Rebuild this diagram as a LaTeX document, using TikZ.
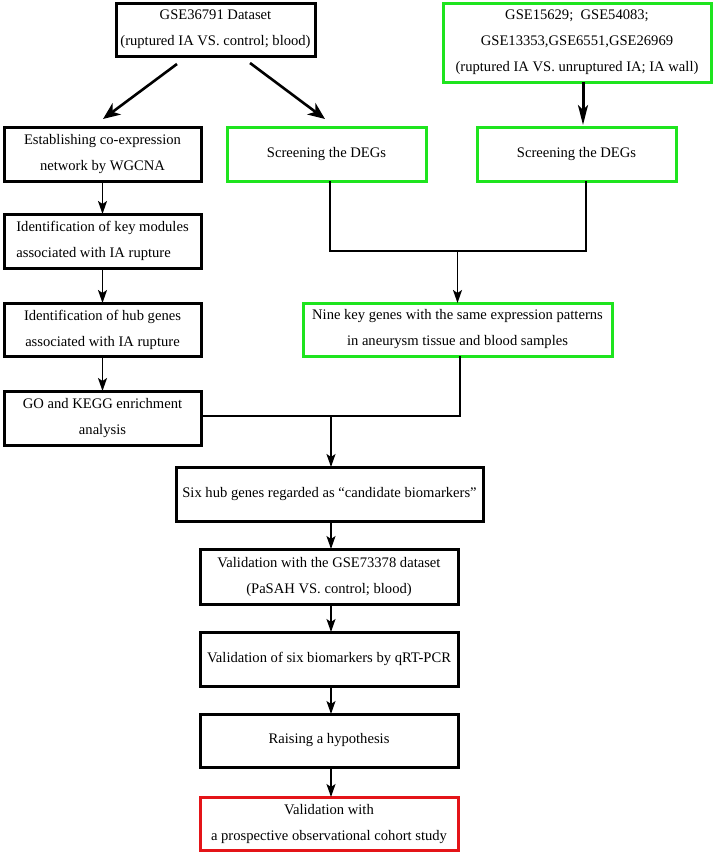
\documentclass[tikz,border=0pt]{standalone}
\usepackage{fontspec}
\setmainfont{Liberation Serif}
\usetikzlibrary{arrows.meta,calc}
\definecolor{boxgreen}{RGB}{30,228,30}
\definecolor{boxred}{RGB}{228,20,24}
\begin{document}
\begin{tikzpicture}[x=1pt,y=-1pt,
  box/.style={draw=black,line width=3pt,inner sep=0pt,outer sep=0pt,align=center,
    font=\fontsize{14.6}{26}\selectfont,text=black},
  gbox/.style={box,draw=boxgreen},
  rbox/.style={box,draw=boxred},
  conn/.style={line width=1.8pt,-{Stealth[length=13pt,width=9pt,inset=3pt]}},
  plain/.style={line width=1.8pt},
  bigconn/.style={line width=2.6pt,-{Stealth[length=17pt,width=14pt,inset=5pt]}},
  vconn/.style={line width=3pt,-{Stealth[length=20pt,width=10pt,inset=5pt]}}
]
\useasboundingbox (0,0) rectangle (714,852);
\fill[white] (0,0) rectangle (714,852);

\node[box,minimum width=199pt,minimum height=53pt] (b1) at (215.5,29.5)
  {GSE36791 Dataset\\(ruptured IA VS. control; blood)};
\node[gbox,minimum width=268pt,minimum height=79pt] (b2) at (577,42.5)
  {GSE15629;\ \ GSE54083;\\GSE13353,GSE6551,GSE26969\\(ruptured IA VS. unruptured IA; IA wall)};
\node[box,minimum width=197pt,minimum height=54pt] (wg) at (102.5,154)
  {Establishing co-expression\\network by WGCNA};
\node[gbox,minimum width=199pt,minimum height=54pt] (sl) at (326.5,154)
  {Screening the DEGs};
\node[gbox,minimum width=199pt,minimum height=54pt] (sr) at (576.5,154)
  {Screening the DEGs};
\node[box,minimum width=197pt,minimum height=54pt,align=left] (km) at (102.5,241)
  {Identification of key modules\\associated with IA rupture};
\node[box,minimum width=197pt,minimum height=53pt] (hg) at (102.5,329.5)
  {Identification of hub genes\\associated with IA rupture};
\node[box,minimum width=197pt,minimum height=54pt] (go) at (102.5,418)
  {GO and KEGG enrichment\\analysis};
\node[gbox,minimum width=309pt,minimum height=53pt] (nk) at (457.5,329.5)
  {Nine key genes with the same expression patterns\\in aneurysm tissue and blood samples};
\node[box,minimum width=307pt,minimum height=54pt] (six) at (329.5,494)
  {Six hub genes regarded as “candidate biomarkers”};
\node[box,minimum width=258pt,minimum height=55pt] (v1) at (329,576.5)
  {Validation with the GSE73378 dataset\\(PaSAH VS. control; blood)};
\node[box,minimum width=258pt,minimum height=54pt] (qr) at (329,659)
  {Validation of six biomarkers by qRT-PCR};
\node[box,minimum width=258pt,minimum height=53pt] (ra) at (329,740.5)
  {Raising a hypothesis};
\node[rbox,minimum width=258pt,minimum height=53pt] (rd) at (329,823.5)
  {Validation with\\a prospective observational cohort study};

% diagonal arrows from the top dataset
\draw[bigconn] ($(b1.south)+(-38.5,8)$) -- ($(wg.north)+(0.5,-8)$);
\draw[bigconn] ($(b1.south)+(34.5,7)$) -- ($(sl.north)+(-1.5,-8)$);
\draw[vconn] ($(b2.south)+(6,0)$) -- ($(sr.north)+(6.5,-2)$);

% left column
\draw[conn] (wg.south) -- (km.north);
\draw[conn] (km.south) -- (hg.north);
\draw[conn] (hg.south) -- (go.north);

% merging the DEG screenings
\coordinate (j1) at (457.5,251);
\coordinate (sla) at ($(sl.south)+(3.5,0)$);
\coordinate (sra) at ($(sr.south)+(9.5,0)$);
\draw[plain] (sla) |- (j1) -| (sra);
\draw[conn] (j1) -- (nk.north);

% merging into the six hub genes
\coordinate (j2) at (331,416);
\coordinate (nka) at ($(nk.south)+(2.5,0)$);
\draw[plain] (go.east |- j2) -- (j2) -| (nka);
\draw[conn] (j2) -- (j2 |- six.north);

% lower column
\draw[conn] ($(six.south)+(1.5,0)$) -- ($(v1.north)+(2,0)$);
\draw[conn] ($(v1.south)+(2,0)$) -- ($(qr.north)+(2,0)$);
\draw[conn] ($(qr.south)+(2,0)$) -- ($(ra.north)+(2,0)$);
\draw[conn] ($(ra.south)+(2,0)$) -- ($(rd.north)+(2,0)$);
\end{tikzpicture}
\end{document}
